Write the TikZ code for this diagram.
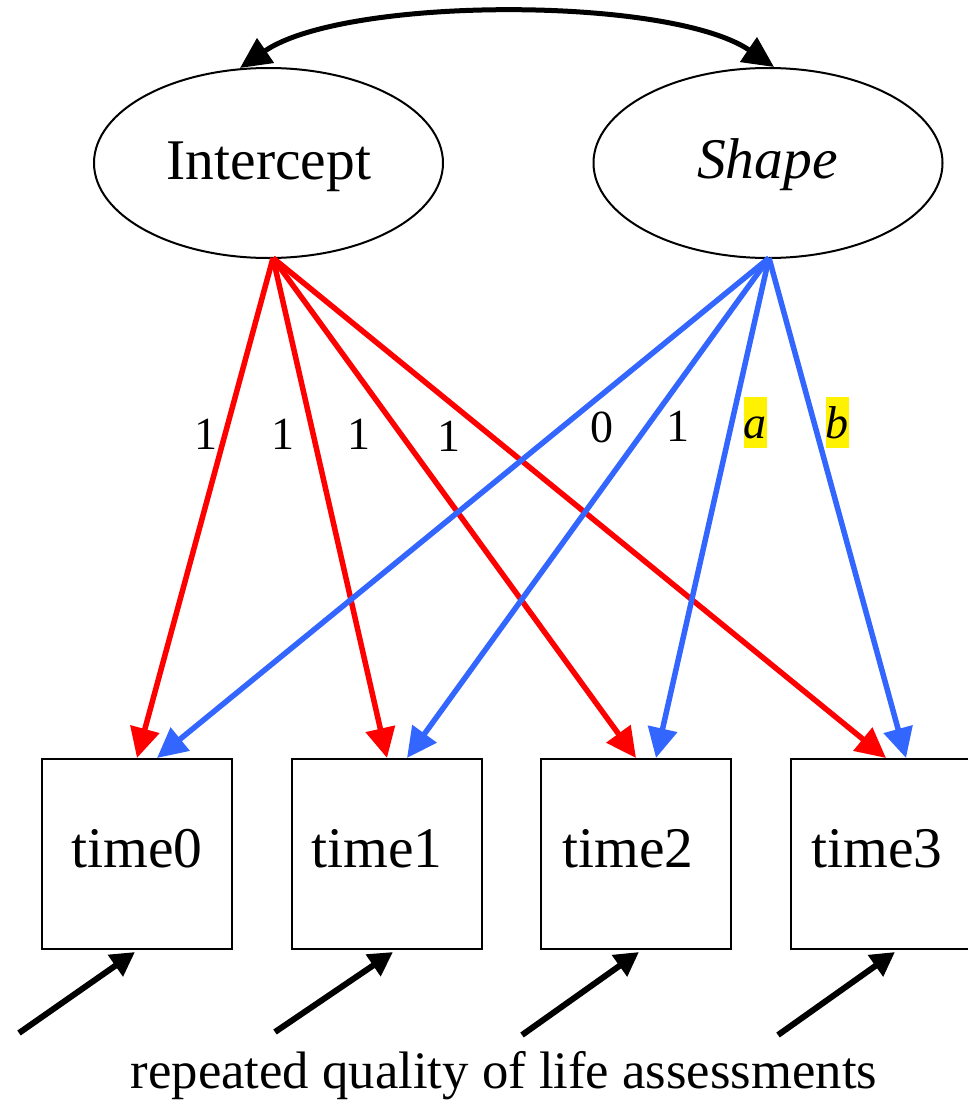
\documentclass[tikz,border=0pt]{standalone}
\usepackage{fontspec}
\setmainfont{Liberation Serif}
\usetikzlibrary{arrows.meta,shapes.geometric}
\definecolor{pathred}{RGB}{255,0,0}
\definecolor{pathblue}{RGB}{51,102,255}
\begin{document}
\begin{tikzpicture}[x=1pt,y=-1pt,
  latent/.style={draw,ellipse,line width=2pt,minimum width=349pt,minimum height=190pt,inner sep=0pt},
  manifest/.style={draw,rectangle,line width=2pt,minimum width=190pt,minimum height=190pt,inner sep=0pt},
  bigtext/.style={anchor=base,inner sep=0pt,font=\fontsize{57.5}{60}\selectfont},
  captiontext/.style={anchor=base,inner sep=0pt,font=\fontsize{52.7}{56}\selectfont},
  coef/.style={anchor=base,inner sep=0pt,font=\fontsize{46}{50}\selectfont},
  hl/.style={coef,fill=yellow,text height=41pt,text depth=10pt},
  redpath/.style={draw=pathred,line width=5.5pt,-{Triangle[length=30pt,width=29pt]}},
  bluepath/.style={draw=pathblue,line width=5.5pt,-{Triangle[length=30pt,width=29pt]}},
  covpath/.style={draw=black,line width=5pt,{Triangle[length=31pt,width=29pt]}-{Triangle[length=31pt,width=29pt]}},
  errpath/.style={draw=black,line width=6pt,-{Triangle[length=24pt,width=25pt]}}
]
\useasboundingbox (0,0) rectangle (968,1100);

% latent factors
\node[latent] (I) at (268.5,163) {};
\node[latent] (S) at (768,163) {};
\node[bigtext] (Itxt) at (269,179) {Intercept};
\node[bigtext] (Stxt) at (767.5,178) {\itshape Shape};

% manifest variables
\node[manifest] (t0) at (137,854) {};
\node[manifest] (t1) at (387,854) {};
\node[manifest] (t2) at (636,854) {};
\node[manifest] (t3) at (886,854) {};
\node[bigtext] (t0txt) at (137,867) {time0};
\node[bigtext] (t1txt) at (377,867) {time1};
\node[bigtext] (t2txt) at (628,867) {time2};
\node[bigtext] (t3txt) at (877,867) {time3};

% covariance
\coordinate (Itop) at (240,68);
\coordinate (Stop) at (774,67);
\draw[covpath] (Itop) .. controls (345,-4) and (670,-4) .. (Stop);

% loadings
\coordinate (Ibot) at (273,258);
\coordinate (Sbot) at (769,258);
\draw[redpath] (Ibot) -- (t0.north);
\draw[redpath] (Ibot) -- (t1.north);
\draw[redpath] (Ibot) -- (t2.north);
\draw[redpath] (Ibot) -- (t3.north);
\draw[bluepath] (Sbot) -- ([xshift=20pt]t0.north);
\draw[bluepath] (Sbot) -- ([xshift=20pt]t1.north);
\draw[bluepath] (Sbot) -- ([xshift=20pt]t2.north);
\draw[bluepath] (Sbot) -- ([xshift=20pt]t3.north);

% loading labels
\node[coef] (l1) at (206,449) {1};
\node[coef] (l2) at (283,449) {1};
\node[coef] (l3) at (359,449) {1};
\node[coef] (l4) at (449,451) {1};
\node[coef] (l5) at (602,442) {0};
\node[coef] (l6) at (678,441) {1};
\node[hl] (l7) at (755,438) {\itshape a};
\node[hl] (l8) at (837,438) {\itshape b};

% residuals
\coordinate (e0) at (19,1033);
\coordinate (e1) at (275,1032);
\coordinate (e2) at (522,1035);
\coordinate (e3) at (778,1035);
\draw[errpath] (e0) -- ([xshift=-2pt,yshift=-2pt]t0.south);
\draw[errpath] (e1) -- ([xshift=6pt,yshift=-2pt]t1.south);
\draw[errpath] (e2) -- ([xshift=3pt,yshift=-2pt]t2.south);
\draw[errpath] (e3) -- ([xshift=9pt,yshift=-2pt]t3.south);

\node[captiontext] (cap) at (504,1088) {repeated quality of life assessments};
\end{tikzpicture}
\end{document}
